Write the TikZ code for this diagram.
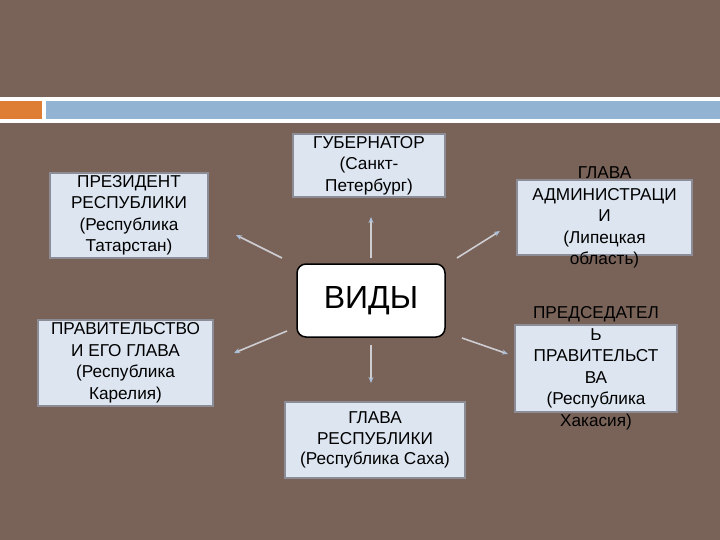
\documentclass[tikz,border=0pt]{standalone}
\usepackage{fontspec}
\setmainfont{Liberation Sans}
\usetikzlibrary{arrows.meta}
\definecolor{bg}{RGB}{121,99,88}
\definecolor{boxfill}{RGB}{220,229,240}
\definecolor{boxline}{RGB}{140,140,150}
\definecolor{band}{RGB}{146,180,210}
\definecolor{orng}{RGB}{222,125,52}
\definecolor{arr}{RGB}{205,205,210}
\definecolor{tipc}{RGB}{170,190,215}
\tikzset{
  box/.style={draw=boxline, line width=1.2pt, fill=boxfill, inner sep=0pt},
  txt/.style={align=center, font=\fontsize{17.2}{21.5}\selectfont, inner sep=0pt, text=black},
  conn/.style={draw=arr, line width=1.6pt, -{Stealth[length=6pt,width=5pt,color=tipc]}}
}
\begin{document}
\begin{tikzpicture}[x=1pt,y=-1pt]
\useasboundingbox (0,0) rectangle (720,540);
\fill[bg] (0,0) rectangle (720,540);
% header band
\fill[white] (0,97) rectangle (720,123);
\fill[orng] (0,101) rectangle (42,119);
\fill[band] (46,101) rectangle (720,119);

% boxes
\node[box, minimum width=158pt, minimum height=85pt] (pres) at (129,215.5) {};
\node[txt] at (pres) {ПРЕЗИДЕНТ\\РЕСПУБЛИКИ\\(Республика\\Татарстан)};

\node[box, minimum width=152pt, minimum height=63pt] (gub) at (369,165.5) {};
\node[txt] at (gub) {ГУБЕРНАТОР\\(Санкт-\\Петербург)};

\node[box, minimum width=175pt, minimum height=75pt] (adm) at (604.5,217.5) {};
\node[txt] at (adm) {ГЛАВА\\АДМИНИСТРАЦИ\\И\\(Липецкая\\область)};

\node[draw=black, line width=1.5pt, fill=white, rounded corners=9pt, minimum width=148pt, minimum height=73pt, inner sep=0pt] (vid) at (371,300.5) {};
\node[inner sep=0pt, font=\fontsize{32}{34}\selectfont] at (vid) {ВИДЫ};

\node[box, minimum width=175pt, minimum height=86pt] (prav) at (125.5,363) {};
\node[txt] at (prav) {ПРАВИТЕЛЬСТВО\\И ЕГО ГЛАВА\\(Республика\\Карелия)};

\node[box, minimum width=180pt, minimum height=76pt] (glr) at (375,440) {};
\node[txt, font=\fontsize{17.2}{20.5}\selectfont] at (glr) {ГЛАВА\\РЕСПУБЛИКИ\\(Республика Саха)};

\node[box, minimum width=162pt, minimum height=87pt] (pred) at (596,368.5) {};
\node[txt] at (pred) {ПРЕДСЕДАТЕЛ\\Ь\\ПРАВИТЕЛЬСТ\\ВА\\(Республика\\Хакасия)};

% connectors
\coordinate (ulS) at (282,258); \coordinate (ulE) at (236,235);
\coordinate (urS) at (457,258); \coordinate (urE) at (500,231);
\coordinate (llS) at (287,331); \coordinate (llE) at (234,353);
\coordinate (lrS) at (462,338); \coordinate (lrE) at (508,354);
\coordinate (upS) at (371,258); \coordinate (upE) at (371,217);
\coordinate (dnS) at (371,345); \coordinate (dnE) at (371,383);
\draw[conn] (ulS) -- (ulE);
\draw[conn] (urS) -- (urE);
\draw[conn] (llS) -- (llE);
\draw[conn] (lrS) -- (lrE);
\draw[conn] (upS) -- (upE);
\draw[conn] (dnS) -- (dnE);
\end{tikzpicture}
\end{document}
